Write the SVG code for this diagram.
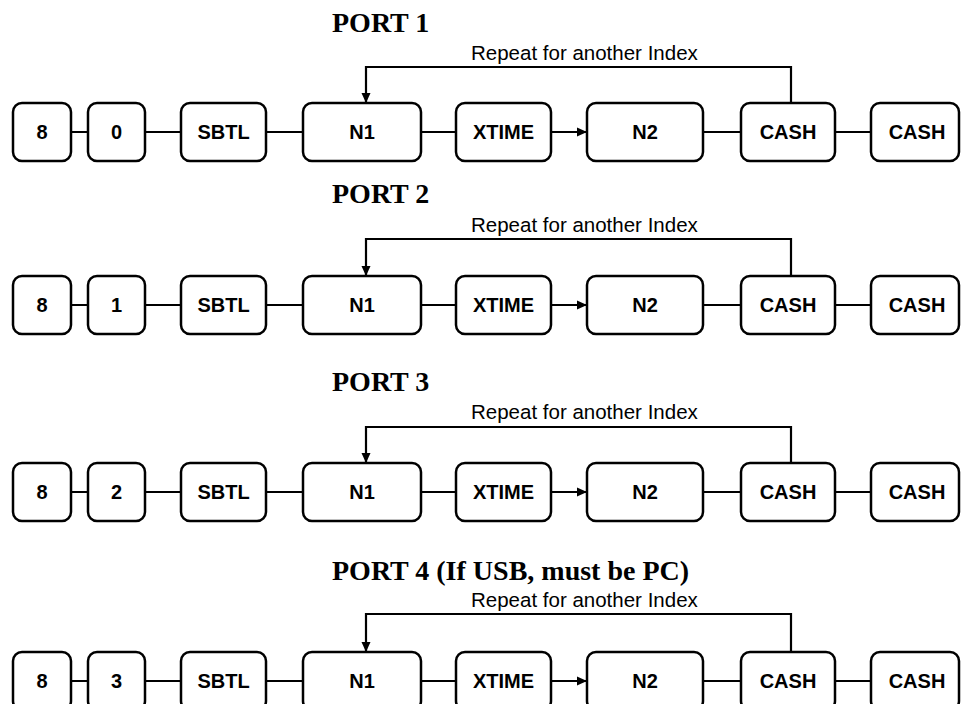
<svg xmlns="http://www.w3.org/2000/svg" width="961" height="704" viewBox="0 0 961 704">
<style>
.box{fill:#fff;stroke:#000;stroke-width:2.5}
.lbl{font-family:"Liberation Sans",Arial,sans-serif;font-weight:bold;font-size:20px;text-anchor:middle}
.title{font-family:"Liberation Serif","Times New Roman",serif;font-weight:bold;font-size:28px}
.rep{font-family:"Liberation Sans",Arial,sans-serif;font-size:20.5px}
.ln{fill:none;stroke:#000;stroke-width:2.2}
</style>
<defs>
<marker id="ah" markerWidth="11" markerHeight="10" refX="10" refY="5" orient="auto" markerUnits="userSpaceOnUse">
<path d="M0,0.5 L10,5 L0,9.5 Z" fill="#000"/>
</marker>
<g id="rowtpl">
</g>
</defs>
<rect width="961" height="704" fill="#fff"/>

<g id="titles">
<text class="title" x="332" y="32">PORT 1</text>
<text class="title" x="332" y="203">PORT 2</text>
<text class="title" x="332" y="391">PORT 3</text>
<text class="title" x="332" y="580">PORT 4 (If USB, must be PC)</text>
<text class="rep" x="471" y="60">Repeat for another Index</text>
<text class="rep" x="471" y="232">Repeat for another Index</text>
<text class="rep" x="471" y="419">Repeat for another Index</text>
<text class="rep" x="471" y="607">Repeat for another Index</text>
</g>

<g id="connectors">
<!-- row 1 -->
<path class="ln" d="M71,132H88 M145,132H181 M266,132H303 M421,132H456 M703,132H741 M835,132H871"/>
<path class="ln" d="M551,132H587" marker-end="url(#ah)"/>
<path class="ln" d="M791,103V67H366V103" marker-end="url(#ah)"/>
<!-- row 2 -->
<path class="ln" d="M71,305H88 M145,305H181 M266,305H303 M421,305H456 M703,305H741 M835,305H871"/>
<path class="ln" d="M551,305H587" marker-end="url(#ah)"/>
<path class="ln" d="M791,276V239H366V276" marker-end="url(#ah)"/>
<!-- row 3 -->
<path class="ln" d="M71,492H88 M145,492H181 M266,492H303 M421,492H456 M703,492H741 M835,492H871"/>
<path class="ln" d="M551,492H587" marker-end="url(#ah)"/>
<path class="ln" d="M791,463V427H366V463" marker-end="url(#ah)"/>
<!-- row 4 -->
<path class="ln" d="M71,681H88 M145,681H181 M266,681H303 M421,681H456 M703,681H741 M835,681H871"/>
<path class="ln" d="M551,681H587" marker-end="url(#ah)"/>
<path class="ln" d="M791,652V614H366V652" marker-end="url(#ah)"/>
</g>

<!-- Row 1 -->
<g id="r1-8"><rect class="box" x="13" y="103" width="58" height="58" rx="9"/><text class="lbl" x="42" y="139">8</text></g>
<g id="r1-0"><rect class="box" x="88" y="103" width="57" height="58" rx="9"/><text class="lbl" x="116.5" y="139">0</text></g>
<g id="r1-sbtl"><rect class="box" x="181" y="103" width="85" height="58" rx="9"/><text class="lbl" x="223.5" y="139">SBTL</text></g>
<g id="r1-n1"><rect class="box" x="303" y="103" width="118" height="58" rx="9"/><text class="lbl" x="362" y="139">N1</text></g>
<g id="r1-xtime"><rect class="box" x="456" y="103" width="95" height="58" rx="9"/><text class="lbl" x="503.5" y="139">XTIME</text></g>
<g id="r1-n2"><rect class="box" x="587" y="103" width="116" height="58" rx="9"/><text class="lbl" x="645" y="139">N2</text></g>
<g id="r1-cash1"><rect class="box" x="741" y="103" width="94" height="58" rx="9"/><text class="lbl" x="788" y="139">CASH</text></g>
<g id="r1-cash2"><rect class="box" x="871" y="103" width="88" height="58" rx="9"/><text class="lbl" x="917" y="139">CASH</text></g>

<!-- Row 2 -->
<g id="r2-8"><rect class="box" x="13" y="276" width="58" height="58" rx="9"/><text class="lbl" x="42" y="312">8</text></g>
<g id="r2-1"><rect class="box" x="88" y="276" width="57" height="58" rx="9"/><text class="lbl" x="116.5" y="312">1</text></g>
<g id="r2-sbtl"><rect class="box" x="181" y="276" width="85" height="58" rx="9"/><text class="lbl" x="223.5" y="312">SBTL</text></g>
<g id="r2-n1"><rect class="box" x="303" y="276" width="118" height="58" rx="9"/><text class="lbl" x="362" y="312">N1</text></g>
<g id="r2-xtime"><rect class="box" x="456" y="276" width="95" height="58" rx="9"/><text class="lbl" x="503.5" y="312">XTIME</text></g>
<g id="r2-n2"><rect class="box" x="587" y="276" width="116" height="58" rx="9"/><text class="lbl" x="645" y="312">N2</text></g>
<g id="r2-cash1"><rect class="box" x="741" y="276" width="94" height="58" rx="9"/><text class="lbl" x="788" y="312">CASH</text></g>
<g id="r2-cash2"><rect class="box" x="871" y="276" width="88" height="58" rx="9"/><text class="lbl" x="917" y="312">CASH</text></g>

<!-- Row 3 -->
<g id="r3-8"><rect class="box" x="13" y="463" width="58" height="58" rx="9"/><text class="lbl" x="42" y="499">8</text></g>
<g id="r3-2"><rect class="box" x="88" y="463" width="57" height="58" rx="9"/><text class="lbl" x="116.5" y="499">2</text></g>
<g id="r3-sbtl"><rect class="box" x="181" y="463" width="85" height="58" rx="9"/><text class="lbl" x="223.5" y="499">SBTL</text></g>
<g id="r3-n1"><rect class="box" x="303" y="463" width="118" height="58" rx="9"/><text class="lbl" x="362" y="499">N1</text></g>
<g id="r3-xtime"><rect class="box" x="456" y="463" width="95" height="58" rx="9"/><text class="lbl" x="503.5" y="499">XTIME</text></g>
<g id="r3-n2"><rect class="box" x="587" y="463" width="116" height="58" rx="9"/><text class="lbl" x="645" y="499">N2</text></g>
<g id="r3-cash1"><rect class="box" x="741" y="463" width="94" height="58" rx="9"/><text class="lbl" x="788" y="499">CASH</text></g>
<g id="r3-cash2"><rect class="box" x="871" y="463" width="88" height="58" rx="9"/><text class="lbl" x="917" y="499">CASH</text></g>

<!-- Row 4 -->
<g id="r4-8"><rect class="box" x="13" y="652" width="58" height="58" rx="9"/><text class="lbl" x="42" y="688">8</text></g>
<g id="r4-3"><rect class="box" x="88" y="652" width="57" height="58" rx="9"/><text class="lbl" x="116.5" y="688">3</text></g>
<g id="r4-sbtl"><rect class="box" x="181" y="652" width="85" height="58" rx="9"/><text class="lbl" x="223.5" y="688">SBTL</text></g>
<g id="r4-n1"><rect class="box" x="303" y="652" width="118" height="58" rx="9"/><text class="lbl" x="362" y="688">N1</text></g>
<g id="r4-xtime"><rect class="box" x="456" y="652" width="95" height="58" rx="9"/><text class="lbl" x="503.5" y="688">XTIME</text></g>
<g id="r4-n2"><rect class="box" x="587" y="652" width="116" height="58" rx="9"/><text class="lbl" x="645" y="688">N2</text></g>
<g id="r4-cash1"><rect class="box" x="741" y="652" width="94" height="58" rx="9"/><text class="lbl" x="788" y="688">CASH</text></g>
<g id="r4-cash2"><rect class="box" x="871" y="652" width="88" height="58" rx="9"/><text class="lbl" x="917" y="688">CASH</text></g>
</svg>
